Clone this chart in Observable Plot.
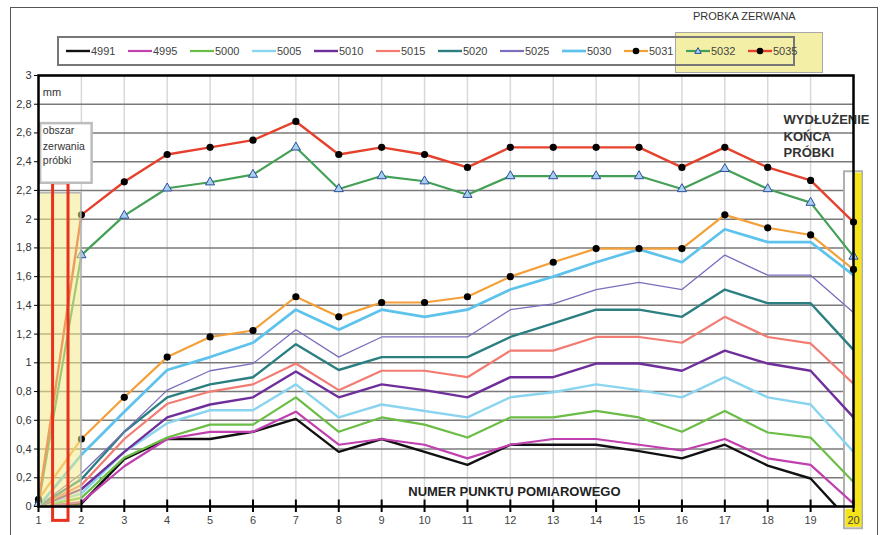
<!DOCTYPE html>
<html>
<head>
<meta charset="utf-8">
<script src="https://cdn.jsdelivr.net/npm/d3@7"></script>
<script src="https://cdn.jsdelivr.net/npm/@observablehq/plot@0.6"></script>
<style>
  body { margin: 0; background: #fff; font-family: "Liberation Sans", Arial, sans-serif; }
  #wrap { position: relative; width: 885px; height: 535px; overflow: hidden; }
  #chart { position: absolute; left: 0; top: 0; }
  #outer { position: absolute; left: 10px; top: 7px; width: 866px; height: 532px; border: 1.5px solid #555; pointer-events: none; }
  #broken { position: absolute; left: 675px; top: 32px; width: 146px; height: 39px; background: #f4efa6; border: 1.5px solid #a8a8a8; }
  #broken-title { position: absolute; left: 693px; top: 10px; font: 11px "Liberation Sans Narrow", "Liberation Sans", Arial, sans-serif; color: #333; }
  #legend { position: absolute; left: 57px; top: 36px; width: 738px; height: 30px; border: 2px solid #777; display: flex; align-items: center; padding-left: 7px; box-sizing: border-box; }
  .item { width: 62px; display: flex; align-items: center; flex: none; }
  .item span { font: 11px "Liberation Sans Narrow", "Liberation Sans", Arial, sans-serif; color: #444; margin-left: 1px; }
</style>
</head>
<body>
<div id="wrap">
  <div id="chart"></div>
  <div id="broken"></div>
  <div id="broken-title">PROBKA ZERWANA</div>
  <div id="legend"></div>
  <div id="outer"></div>
</div>
<script>
// Measurement points along the specimen
const points = [1, 2, 3, 4, 5, 6, 7, 8, 9, 10, 11, 12, 13, 14, 15, 16, 17, 18, 19, 20];
const yTicks = [0, 0.2, 0.4, 0.6, 0.8, 1, 1.2, 1.4, 1.6, 1.8, 2, 2.2, 2.4, 2.6, 2.8, 3];

// Elongation [mm] at each point, one array per load cycle
const s4991 = [0, 0.02, 0.33, 0.47, 0.47, 0.52, 0.61, 0.38, 0.47, 0.38, 0.29, 0.43, 0.43, 0.43, 0.385, 0.335, 0.43, 0.285, 0.195, -0.13];
const s4995 = [0, 0.03, 0.28, 0.47, 0.52, 0.52, 0.66, 0.43, 0.47, 0.43, 0.335, 0.43, 0.47, 0.47, 0.43, 0.39, 0.47, 0.335, 0.29, 0.02];
const s5000 = [0, 0.06, 0.34, 0.48, 0.57, 0.57, 0.76, 0.52, 0.62, 0.57, 0.48, 0.62, 0.62, 0.665, 0.62, 0.52, 0.665, 0.515, 0.48, 0.17];
const s5005 = [0, 0.09, 0.38, 0.58, 0.67, 0.67, 0.85, 0.62, 0.71, 0.665, 0.62, 0.76, 0.795, 0.85, 0.81, 0.76, 0.90, 0.76, 0.71, 0.38];
const s5010 = [0, 0.12, 0.38, 0.62, 0.71, 0.76, 0.94, 0.76, 0.85, 0.81, 0.76, 0.90, 0.90, 0.995, 0.995, 0.945, 1.085, 0.995, 0.945, 0.62];
const s5015 = [0, 0.15, 0.47, 0.715, 0.80, 0.85, 0.995, 0.81, 0.945, 0.945, 0.90, 1.085, 1.085, 1.18, 1.18, 1.14, 1.32, 1.18, 1.135, 0.855];
const s5020 = [0, 0.19, 0.52, 0.76, 0.85, 0.90, 1.13, 0.95, 1.04, 1.04, 1.04, 1.18, 1.275, 1.37, 1.37, 1.32, 1.51, 1.415, 1.415, 1.09];
const s5025 = [0, 0.23, 0.52, 0.81, 0.945, 0.995, 1.23, 1.04, 1.18, 1.18, 1.18, 1.37, 1.41, 1.51, 1.56, 1.51, 1.75, 1.61, 1.61, 1.35];
const s5030 = [0, 0.36, 0.66, 0.95, 1.04, 1.14, 1.37, 1.23, 1.37, 1.32, 1.37, 1.51, 1.60, 1.70, 1.79, 1.70, 1.93, 1.84, 1.84, 1.61];
const s5031 = [0.05, 0.47, 0.76, 1.04, 1.18, 1.225, 1.46, 1.32, 1.42, 1.42, 1.46, 1.60, 1.70, 1.795, 1.795, 1.795, 2.03, 1.94, 1.89, 1.65];
const s5032 = [0.02, 1.75, 2.025, 2.215, 2.257, 2.31, 2.50, 2.21, 2.30, 2.264, 2.17, 2.30, 2.30, 2.30, 2.30, 2.21, 2.35, 2.21, 2.115, 1.74];
const s5035 = [0.03, 2.03, 2.26, 2.45, 2.50, 2.55, 2.68, 2.45, 2.50, 2.45, 2.36, 2.50, 2.50, 2.50, 2.50, 2.36, 2.50, 2.36, 2.27, 1.98];

const seriesNames = ["4991", "4995", "5000", "5005", "5010", "5015", "5020", "5025", "5030", "5031", "5032", "5035"];
const seriesValues = [s4991, s4995, s5000, s5005, s5010, s5015, s5020, s5025, s5030, s5031, s5032, s5035];

// Annotation regions (in data units)
const breakZone = { x1: 1, x2: 2, y1: 0, y2: 2.18 };
const breakMark = { x1: 1.34, x2: 1.7, y1: -0.1, y2: 2.25 };
const noteBox = { x1: 1.05, x2: 2.25, y1: 2.25, y2: 2.665 };
const noteLines = [
  { x: 1.1, y: 2.615, text: "obszar" },
  { x: 1.1, y: 2.505, text: "zerwania" },
  { x: 1.1, y: 2.405, text: "próbki" }
];
const unitLabel = { x: 1.1, y: 2.88, text: "mm" };
const endLines = [
  { x: 18.37, y: 2.69, text: "WYDŁUŻENIE" },
  { x: 18.37, y: 2.575, text: "KOŃCA" },
  { x: 18.37, y: 2.46, text: "PRÓBKI" }
];
const axisTitle = { x: 9.62, y: 0.1, text: "NUMER PUNKTU POMIAROWEGO" };
const endBox = { x1: 19.79, x2: 20.21, y1: -0.155, y2: 2.33 };
const endFill = { x1: 20.0, x2: 20.2, y1: -0.02, y2: 2.32 };
const endLabelFill = { x1: 19.82, x2: 20.2, y1: -0.02, y2: -0.145 };
const tickLength = 0.045;

const style = {
  "4991": { color: "#111111", width: 2.4 },
  "4995": { color: "#c040b0", width: 2.2 },
  "5000": { color: "#6bbd45", width: 2.2 },
  "5005": { color: "#8ad4ef", width: 2.4 },
  "5010": { color: "#6f2f9a", width: 2.4 },
  "5015": { color: "#f27b72", width: 2.2 },
  "5020": { color: "#2b7f80", width: 2.4 },
  "5025": { color: "#7d6dbd", width: 1.3 },
  "5030": { color: "#5ec3ec", width: 2.7 },
  "5031": { color: "#f4a03a", width: 2.2, marker: "dot" },
  "5032": { color: "#43a056", width: 2.2, marker: "triangle" },
  "5035": { color: "#e5412c", width: 2.4, marker: "dot" }
};

const rows = seriesNames.flatMap((name, i) =>
  points.map((x, j) => ({ series: name, x, y: seriesValues[i][j] }))
);

const lineMarks = seriesNames.map(name =>
  Plot.line(rows.filter(d => d.series === name), {
    x: "x", y: "y", stroke: style[name].color, strokeWidth: style[name].width, clip: true
  })
);
const dotRows = rows.filter(d => style[d.series].marker === "dot");
const triRows = rows.filter(d => style[d.series].marker === "triangle");

const chart = Plot.plot({
  width: 885,
  height: 535,
  marginLeft: 38,
  marginRight: 32,
  marginTop: 75,
  marginBottom: 29,
  style: { fontFamily: "'Liberation Sans', Arial, sans-serif", fontSize: "11px", background: "transparent" },
  x: { type: "linear", domain: [1, 20] },
  y: { domain: [0, 3] },
  marks: [
    Plot.gridX(points, { stroke: "#d8d8d8", strokeOpacity: 1, strokeWidth: 1.5 }),
    Plot.gridY(yTicks, { stroke: "#7a7a7a", strokeOpacity: 1, strokeWidth: 1.5 }),
    Plot.rect([endBox], { x1: "x1", x2: "x2", y1: "y1", y2: "y2", fill: "#fff", stroke: "#b0b0b0", strokeWidth: 2 }),
    Plot.rect([endFill, endLabelFill], { x1: "x1", x2: "x2", y1: "y1", y2: "y2", fill: "#f5e41a" }),
    ...lineMarks,
    Plot.dot(dotRows, { x: "x", y: "y", r: 3.6, fill: "#000" }),
    Plot.dot(triRows, { x: "x", y: "y", symbol: "triangle", r: 3.4, fill: "#a9cff0", stroke: "#2c4f9c", strokeWidth: 1 }),
    Plot.rect([breakZone], { x1: "x1", x2: "x2", y1: "y1", y2: "y2", fill: "#f2e98a", fillOpacity: 0.55, stroke: "#b5b5b5", strokeWidth: 1.5 }),
    Plot.rect([breakMark], { x1: "x1", x2: "x2", y1: "y1", y2: "y2", fill: "none", stroke: "#e8321e", strokeWidth: 3 }),
    Plot.rect([noteBox], { x1: "x1", x2: "x2", y1: "y1", y2: "y2", fill: "#fff", stroke: "#bdbdbd", strokeWidth: 2.5 }),
    Plot.text(noteLines, { x: "x", y: "y", text: "text", textAnchor: "start", fontSize: 10.5, fill: "#333" }),
    Plot.text([unitLabel], { x: "x", y: "y", text: "text", textAnchor: "start", fontSize: 11, fill: "#333" }),
    Plot.text(endLines, { x: "x", y: "y", text: "text", textAnchor: "start", fontSize: 13, fontWeight: "bold", fill: "#333" }),
    Plot.text([axisTitle], { x: "x", y: "y", text: "text", textAnchor: "start", fontSize: 13, fontWeight: "bold", fill: "#222" }),
    Plot.frame({ stroke: "#000", strokeWidth: 2.5 }),
    Plot.axisY(yTicks, { tickSize: 4, tickPadding: 3, fill: "#333", fontSize: 11, label: null,
      tickFormat: d => String(d).replace(".", ",") }),
    Plot.axisX(points, { tickSize: 6, tickPadding: 4, fill: "#444", fontSize: 11, label: null, strokeWidth: 2,
      tickFormat: d => String(d) }),
    Plot.ruleX(points, { x: d => d, y1: 0, y2: tickLength, stroke: "#000", strokeWidth: 2 })
  ]
});
document.getElementById("chart").append(chart);

// Legend
const legend = document.getElementById("legend");
for (const name of seriesNames) {
  const s = style[name];
  const item = document.createElement("div");
  item.className = "item";
  let marker = "";
  if (s.marker === "dot") marker = `<circle cx="12" cy="5" r="3.3" fill="#000"/>`;
  if (s.marker === "triangle") marker = `<path d="M12,1.6 L15.2,7.4 L8.8,7.4 Z" fill="#a9cff0" stroke="#2c4f9c" stroke-width="1"/>`;
  item.innerHTML = `<svg width="24" height="10"><line x1="0" x2="24" y1="5" y2="5" stroke="${s.color}" stroke-width="${Math.max(2.2, s.width)}"/>${marker}</svg><span>${name}</span>`;
  legend.append(item);
}
</script>
</body>
</html>
